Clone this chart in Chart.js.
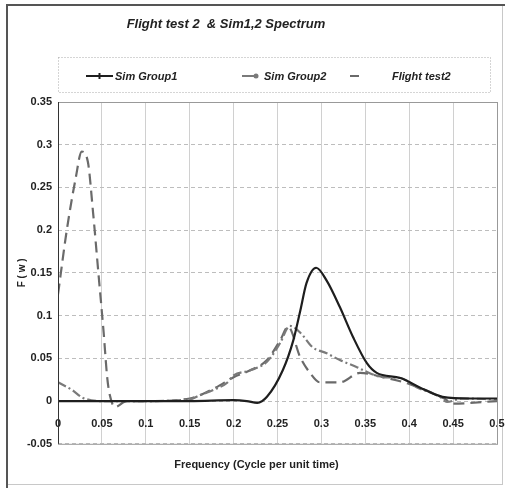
<!DOCTYPE html>
<html>
<head>
<meta charset="utf-8">
<script src="https://cdn.jsdelivr.net/npm/chart.js@4.4.1/dist/chart.umd.min.js"></script>
<style>
  html, body { margin: 0; padding: 0; background: #fff; }
  .chart-container { width: 505px; height: 488px; position: relative; }
</style>
</head>
<body>
<div class="chart-container"><canvas id="myChart"></canvas></div>
<script>
const ctx = document.getElementById('myChart').getContext('2d');

// values
const seriesNames = ['Sim Group1', 'Sim Group2', 'Flight test2'];

const simGroup1Freq = [0, 0.05, 0.1, 0.15, 0.2, 0.215, 0.227, 0.238, 0.256, 0.268, 0.276, 0.283, 0.294, 0.306, 0.321, 0.336, 0.352, 0.363, 0.39, 0.412, 0.438, 0.47, 0.5];
const simGroup1Val = [0, 0, 0, 0, 0.001, 0, -0.002, 0.005, 0.036, 0.071, 0.106, 0.138, 0.156, 0.141, 0.11, 0.075, 0.044, 0.033, 0.027, 0.016, 0.005, 0.003, 0.003];

const simGroup2Freq = [0, 0.016, 0.028, 0.05, 0.1, 0.15, 0.162, 0.177, 0.192, 0.2, 0.219, 0.238, 0.253, 0.264, 0.276, 0.29, 0.306, 0.321, 0.34, 0.352, 0.37, 0.39, 0.409, 0.435, 0.443, 0.46, 0.5];
const simGroup2Val = [0.022, 0.013, 0.004, 0, 0, 0.002, 0.007, 0.013, 0.021, 0.03, 0.036, 0.046, 0.068, 0.088, 0.08, 0.063, 0.056, 0.048, 0.04, 0.034, 0.028, 0.027, 0.016, 0.005, -0.001, 0.003, 0.002];

const flightFreq = [0, 0.01, 0.02, 0.027, 0.034, 0.04, 0.046, 0.052, 0.056, 0.059, 0.065, 0.078, 0.1, 0.15, 0.18, 0.2, 0.219, 0.238, 0.253, 0.262, 0.276, 0.287, 0.298, 0.321, 0.344, 0.37, 0.4, 0.44, 0.45, 0.5];
const flightVal = [0.125, 0.2, 0.26, 0.292, 0.28, 0.22, 0.15, 0.08, 0.028, 0.007, -0.007, 0, 0, 0.003, 0.016, 0.028, 0.036, 0.048, 0.071, 0.087, 0.051, 0.033, 0.022, 0.022, 0.033, 0.028, 0.02, 0.003, -0.003, 0];

const xTicks = [0, 0.05, 0.1, 0.15, 0.2, 0.25, 0.3, 0.35, 0.4, 0.45, 0.5];
const yTicks = [-0.05, 0, 0.05, 0.1, 0.15, 0.2, 0.25, 0.3, 0.35];

const toPoints = (xs, ys) => xs.map((x, i) => ({ x: x, y: ys[i] }));

const FONT = '"Liberation Sans Narrow", "Liberation Sans", Arial, sans-serif';

const data = {
    datasets: [
        {
            label: seriesNames[0],
            data: toPoints(simGroup1Freq, simGroup1Val),
            borderColor: '#1e1e1e',
            borderWidth: 2.2,
            borderDash: [],
        },
        {
            label: seriesNames[1],
            data: toPoints(simGroup2Freq, simGroup2Val),
            borderColor: '#7a7a7a',
            borderWidth: 2.2,
            borderDash: [9, 3, 2, 3],
        },
        {
            label: seriesNames[2],
            data: toPoints(flightFreq, flightVal),
            borderColor: '#6a6a6a',
            borderWidth: 2.2,
            borderDash: [11, 6],
        },
    ],
};

// frame, plot box, title and legend
const decor = {
    id: 'decor',
    beforeDraw(chart) {
        const c = chart.ctx;
        c.save();
        c.fillStyle = '#fff';
        c.fillRect(0, 0, chart.width, chart.height);
        c.strokeStyle = '#c8c8c8';
        c.lineWidth = 1;
        c.strokeRect(7.5, 5.5, 495, 479);
        c.strokeStyle = '#555';
        c.lineWidth = 2;
        c.beginPath();
        c.moveTo(7, 488); c.lineTo(7, 5); c.lineTo(505, 5);
        c.stroke();
        c.restore();
    },
    afterDatasetsDraw(chart) {
        const c = chart.ctx;
        const a = chart.chartArea;
        c.save();
        c.strokeStyle = '#999';
        c.lineWidth = 1;
        c.strokeRect(a.left + 0.5, a.top + 0.5, a.right - a.left, a.bottom - a.top);
        c.strokeStyle = '#333';
        c.beginPath();
        c.moveTo(a.left + 0.5, a.top); c.lineTo(a.left + 0.5, a.bottom);
        c.stroke();

        // title
        c.fillStyle = '#222';
        c.font = 'italic bold 13px ' + FONT;
        c.textAlign = 'center';
        c.textBaseline = 'middle';
        c.fillText('Flight test 2  & Sim1,2 Spectrum', 226, 24);

        // legend box
        c.strokeStyle = '#aaa';
        c.setLineDash([1, 2]);
        c.strokeRect(58.5, 57.5, 432, 35);
        c.setLineDash([]);

        const ds = chart.data.datasets;
        const items = [
            { x1: 86, x2: 113, tx: 115 },
            { x1: 242, x2: 256, tx: 264 },
            { x1: 350, x2: 359, tx: 392 },
        ];
        const ly = 76;
        c.font = 'italic bold 11px ' + FONT;
        c.textAlign = 'left';
        items.forEach((it, i) => {
            c.strokeStyle = ds[i].borderColor;
            c.lineWidth = 2;
            c.beginPath();
            c.moveTo(it.x1, ly); c.lineTo(it.x2, ly);
            c.stroke();
            if (i === 0) {
                c.beginPath();
                c.moveTo(99.5, ly - 3); c.lineTo(99.5, ly + 3);
                c.stroke();
            }
            if (i === 1) {
                c.fillStyle = ds[i].borderColor;
                c.beginPath();
                c.arc(it.x2, ly, 2.5, 0, Math.PI * 2);
                c.fill();
            }
            c.fillStyle = '#222';
            c.fillText(ds[i].label, it.tx, ly + 1);
        });
        c.restore();
    },
};

const options = {
    responsive: true,
    maintainAspectRatio: false,
    animation: false,
    layout: { padding: { top: 102, right: 8, bottom: 16, left: 16 } },
    elements: {
        point: { radius: 0 },
        line: { cubicInterpolationMode: 'monotone', fill: false },
    },
    scales: {
        x: {
            type: 'linear',
            min: 0,
            max: 0.5,
            position: { y: 0 },
            afterBuildTicks: (s) => { s.ticks = xTicks.map(v => ({ value: v })); },
            afterFit: (s) => { s.paddingLeft = 0; s.paddingRight = 0; },
            ticks: {
                color: '#222',
                font: { family: FONT, size: 11, weight: 'bold' },
                padding: 16,
                maxRotation: 0,
                autoSkip: false,
                callback: (v) => String(+v.toFixed(2)),
            },
            grid: { color: '#d0d0d0', lineWidth: 1, drawTicks: false },
            border: { display: false, dash: [] },
        },
        y: {
            type: 'linear',
            min: -0.05,
            max: 0.35,
            afterBuildTicks: (s) => { s.ticks = yTicks.map(v => ({ value: v })); },
            afterFit: (s) => { s.width = 42; },
            ticks: {
                color: '#222',
                font: { family: FONT, size: 11, weight: 'bold' },
                padding: 6,
                callback: (v) => String(+v.toFixed(2)),
            },
            // in v4 the grid line dash comes from border.dash
            grid: { color: '#bdbdbd', lineWidth: 1, drawTicks: false },
            border: { display: false, dash: [4, 3] },
            title: {
                display: true,
                text: 'F ( w )',
                color: '#222',
                font: { family: FONT, size: 10, weight: 'bold' },
                padding: { top: 0, bottom: 2 },
            },
        },
    },
    plugins: {
        legend: { display: false },
        title: { display: false },
        subtitle: {
            display: true,
            position: 'bottom',
            text: 'Frequency (Cycle per unit time)',
            color: '#222',
            font: { family: FONT, size: 11, weight: 'bold' },
            padding: { top: 15, bottom: 0 },
        },
        tooltip: { enabled: false },
    },
};

const myChart = new Chart(ctx, {
    type: 'line',
    data: data,
    options: options,
    plugins: [decor],
});
</script>
</body>
</html>
